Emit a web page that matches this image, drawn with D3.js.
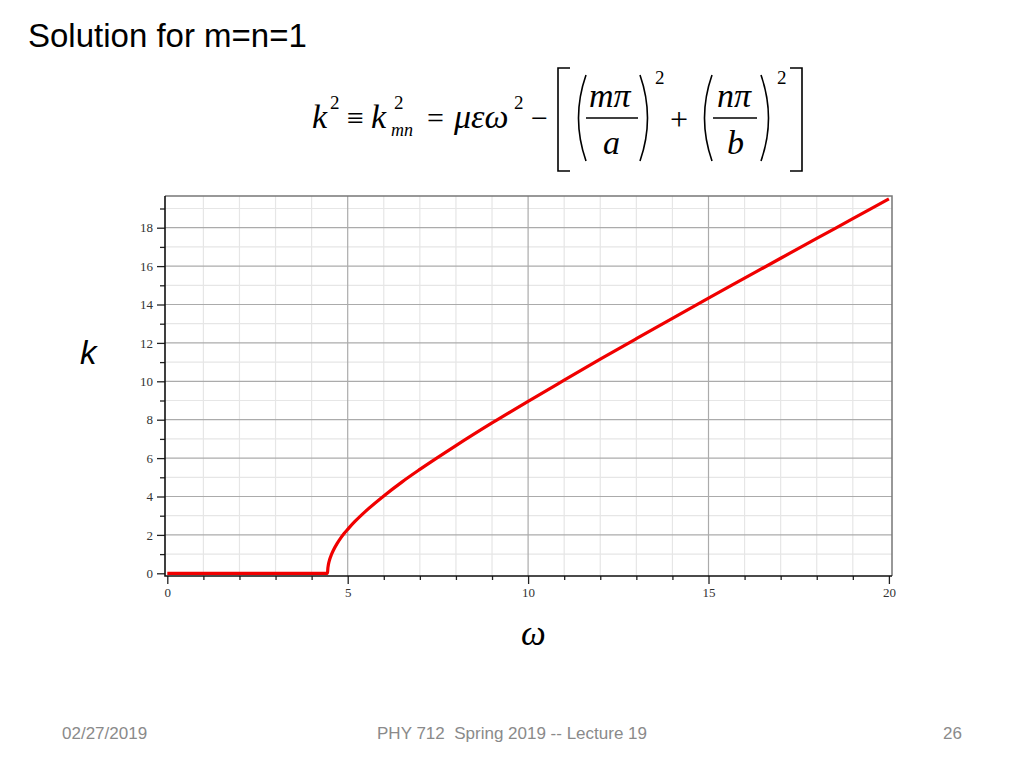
<!DOCTYPE html>
<html>
<head>
<meta charset="utf-8">
<script src="https://cdn.jsdelivr.net/npm/d3@7"></script>
<style>
  html, body { margin: 0; padding: 0; background: #fff; }
  svg { display: block; }
</style>
</head>
<body>
<svg id="chart" width="1024" height="768"></svg>
<script>
// ---- data ----
const omega = [0, 1, 2, 3, 4, 4.44, 4.45, 4.46, 4.48, 4.5, 4.55, 4.6, 4.7, 4.8, 4.9, 5, 5.2, 5.5, 6, 6.5, 7, 8, 9, 10, 11, 12, 13, 14, 15, 16, 17, 18, 19, 20];
const kVals = [0, 0, 0, 0, 0, 0, 0.25, 0.39, 0.58, 0.72, 0.98, 1.19, 1.53, 1.82, 2.07, 2.29, 2.70, 3.24, 4.03, 4.75, 5.41, 6.65, 7.83, 8.96, 10.06, 11.15, 12.22, 13.28, 14.33, 15.37, 16.41, 17.44, 18.47, 19.50];
const xMajorTicks = [0, 5, 10, 15, 20];
const xMinorTicks = [1, 2, 3, 4, 6, 7, 8, 9, 11, 12, 13, 14, 16, 17, 18, 19];
const yMajorTicks = [0, 2, 4, 6, 8, 10, 12, 14, 16, 18];
const yMinorTicks = [1, 3, 5, 7, 9, 11, 13, 15, 17, 19];

const svg = d3.select("#chart");

// ---- plot frame ----
const box = { left: 165, right: 892, top: 196, bottom: 576 };
const x = d3.scaleLinear().domain([0, 20]).range([167.3, 888.9]);
const y = d3.scaleLinear().domain([0, 18]).range([573.3, 227.7]);

const serif = "'Liberation Serif', 'Times New Roman', serif";
const sans = "'Liberation Sans', Arial, sans-serif";

// grid
const grid = svg.append("g");
grid.selectAll(".xminor").data(xMinorTicks).join("line")
  .attr("x1", d => x(d)).attr("x2", d => x(d))
  .attr("y1", box.top).attr("y2", box.bottom)
  .attr("stroke", "#e6e6e6").attr("stroke-width", 1.2);
grid.selectAll(".yminor").data(yMinorTicks).join("line")
  .attr("x1", box.left).attr("x2", box.right)
  .attr("y1", d => y(d)).attr("y2", d => y(d))
  .attr("stroke", "#e6e6e6").attr("stroke-width", 1.2);
grid.selectAll(".xmajor").data(xMajorTicks.filter(d => d > 0 && d < 20)).join("line")
  .attr("x1", d => x(d)).attr("x2", d => x(d))
  .attr("y1", box.top).attr("y2", box.bottom)
  .attr("stroke", "#ababab").attr("stroke-width", 1.2);
grid.selectAll(".ymajor").data(yMajorTicks.filter(d => d > 0)).join("line")
  .attr("x1", box.left).attr("x2", box.right)
  .attr("y1", d => y(d)).attr("y2", d => y(d))
  .attr("stroke", "#ababab").attr("stroke-width", 1.2);

// top and right border
svg.append("path")
  .attr("d", `M${box.left},${box.top}H${box.right}V${box.bottom}`)
  .attr("fill", "none").attr("stroke", "#777").attr("stroke-width", 1.5);

// axes
const xAxisMajor = d3.axisBottom(x).tickValues(xMajorTicks).tickSize(8).tickPadding(4).tickFormat(d3.format("d"));
const xAxisMinor = d3.axisBottom(x).tickValues(xMinorTicks).tickSize(4).tickFormat("");
const yAxisMajor = d3.axisLeft(y).tickValues(yMajorTicks).tickSize(8).tickPadding(4).tickFormat(d3.format("d"));
const yAxisMinor = d3.axisLeft(y).tickValues(yMinorTicks).tickSize(5).tickFormat("");

function styleAxis(g) {
  g.select(".domain").remove();
  g.selectAll(".tick line").attr("stroke", "#222").attr("stroke-width", 1.3);
  g.selectAll(".tick text").attr("font-family", serif).attr("font-size", 13).attr("fill", "#333");
}
svg.append("g").attr("transform", `translate(0,${box.bottom})`).call(xAxisMinor).call(styleAxis);
svg.append("g").attr("transform", `translate(0,${box.bottom})`).call(xAxisMajor).call(styleAxis);
svg.append("g").attr("transform", `translate(${box.left},0)`).call(yAxisMinor).call(styleAxis);
svg.append("g").attr("transform", `translate(${box.left},0)`).call(yAxisMajor).call(styleAxis);

svg.append("path")
  .attr("d", `M${box.left},${box.top}V${box.bottom}H${box.right}`)
  .attr("fill", "none").attr("stroke", "#111").attr("stroke-width", 1.6);

// curve
const line = d3.line().x((d, i) => x(omega[i])).y((d, i) => y(kVals[i])).curve(d3.curveMonotoneX);
svg.append("path")
  .datum(kVals)
  .attr("d", line)
  .attr("fill", "none")
  .attr("stroke", "#f00000")
  .attr("stroke-width", 3.2)
  .attr("stroke-linejoin", "round");

// ---- text ----
svg.append("text").attr("x", 28).attr("y", 46.5)
  .attr("font-family", sans).attr("font-size", 33).attr("fill", "#000")
  .text("Solution for m=n=1");

svg.append("text").attr("x", 80).attr("y", 364)
  .attr("font-family", sans).attr("font-style", "italic").attr("font-size", 33).attr("fill", "#000")
  .text("k");

svg.append("text").attr("x", 521).attr("y", 645)
  .attr("font-family", serif).attr("font-style", "italic").attr("font-size", 35).attr("fill", "#000")
  .text("ω");

function foot(txt, xx, anchor) {
  svg.append("text").attr("x", xx).attr("y", 738.5)
    .attr("font-family", sans).attr("font-size", 17).attr("fill", "#8a8a8a")
    .attr("text-anchor", anchor)
    .attr("xml:space", "preserve")
    .text(txt);
}
foot("02/27/2019", 62, "start");
foot("PHY 712  Spring 2019 -- Lecture 19", 512, "middle");
foot("26", 962, "end");

// ---- formula ----
const f = svg.append("g").attr("font-family", serif).attr("fill", "#000");
function t(txt, xx, yy, size, italic) {
  f.append("text").attr("x", xx).attr("y", yy).attr("font-size", size)
    .attr("font-style", italic ? "italic" : "normal").text(txt);
}
t("k", 312, 128, 34, true);
t("2", 330, 109, 19, false);
t("≡", 347, 128, 30, false);
t("k", 371, 128, 34, true);
t("2", 394, 109, 19, false);
t("mn", 391, 136, 18, true);
t("=", 427, 128, 30, false);
t("μεω", 454, 128, 34, true);
t("2", 514, 109, 19, false);
t("−", 531, 128, 30, false);
t("mπ", 589, 107, 34, true);
t("a", 603, 154, 34, true);
t("2", 655, 84, 19, false);
t("+", 670, 130, 32, false);
t("nπ", 717, 107, 34, true);
t("b", 727, 154, 34, true);
t("2", 777, 84, 19, false);

// fraction bars
f.append("line").attr("x1", 586).attr("x2", 638).attr("y1", 118).attr("y2", 118).attr("stroke", "#000").attr("stroke-width", 1.4);
f.append("line").attr("x1", 713).attr("x2", 757).attr("y1", 118).attr("y2", 118).attr("stroke", "#000").attr("stroke-width", 1.4);

// brackets
f.append("path").attr("d", "M570,68H558V171H570").attr("fill", "none").attr("stroke", "#000").attr("stroke-width", 1.6);
f.append("path").attr("d", "M790,68H802V171H790").attr("fill", "none").attr("stroke", "#000").attr("stroke-width", 1.6);

// parentheses
function paren(x0, top, bot, dir) {
  const mid = (top + bot) / 2;
  const bulge = x0 - dir * 15;
  f.append("path")
    .attr("d", `M${x0},${top} Q${bulge},${mid} ${x0},${bot}`)
    .attr("fill", "none").attr("stroke", "#000").attr("stroke-width", 1.6);
}
paren(586, 75, 161, 1);
paren(640, 75, 161, -1);
paren(712, 75, 161, 1);
paren(761, 75, 161, -1);
</script>
</body>
</html>
